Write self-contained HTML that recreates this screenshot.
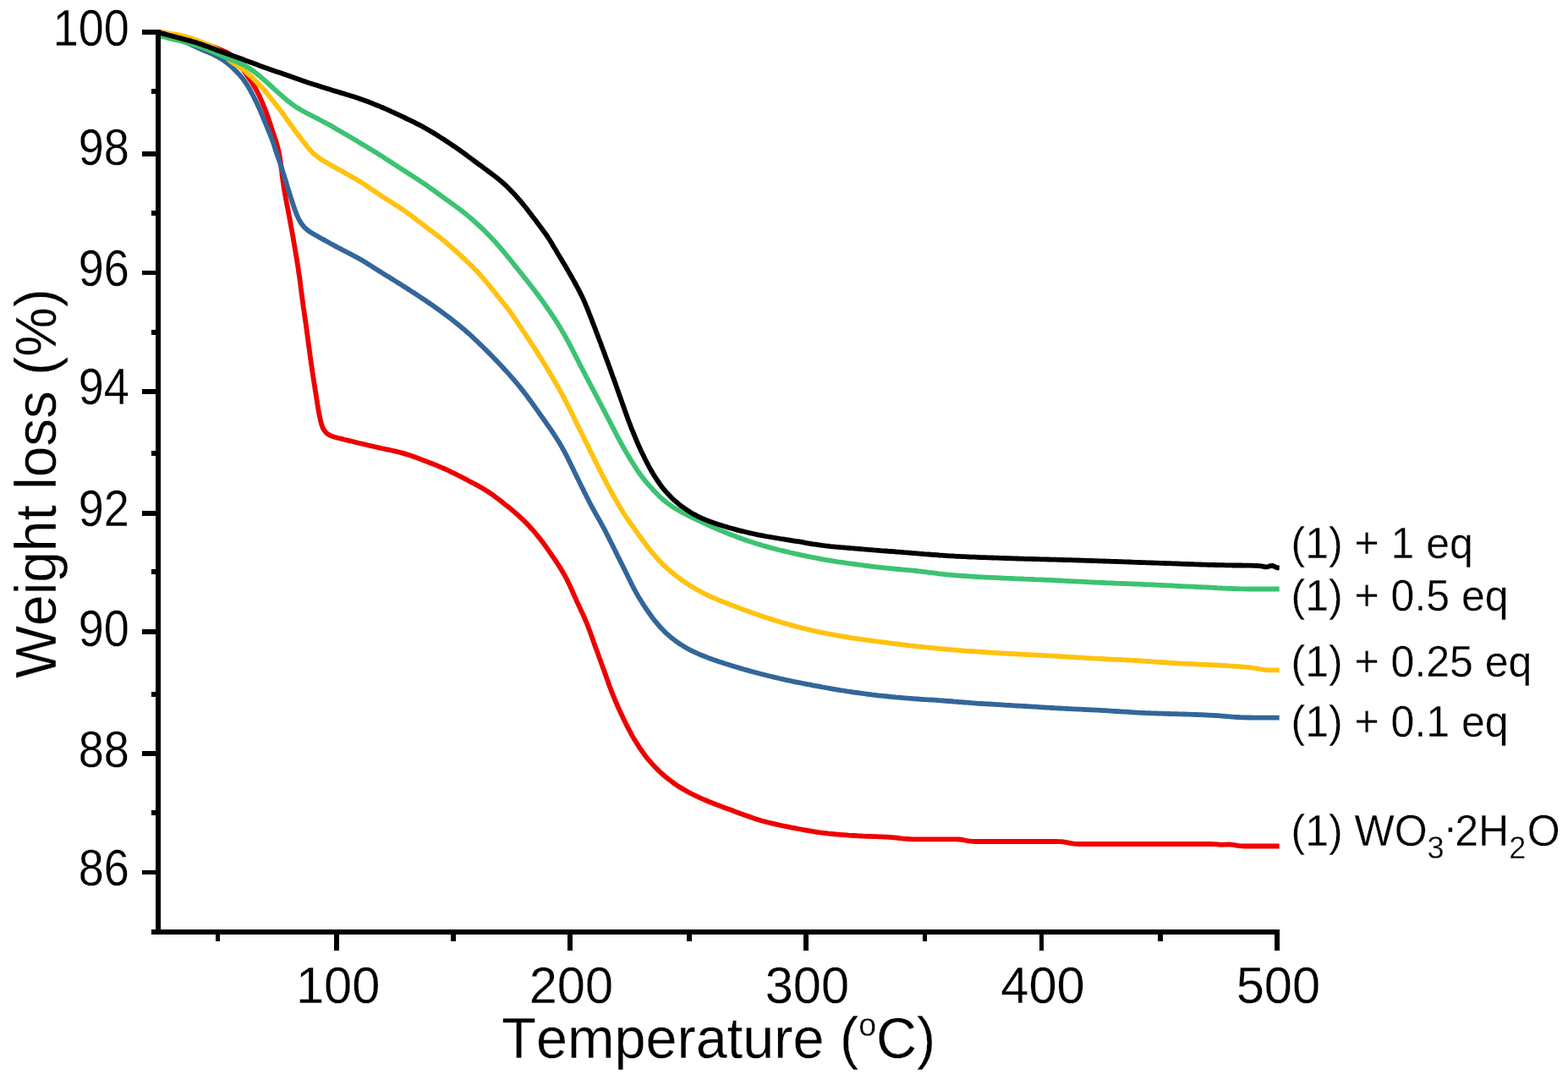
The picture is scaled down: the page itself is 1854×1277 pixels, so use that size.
<!DOCTYPE html>
<html lang="en">
<head>
<meta charset="utf-8">
<title>TGA weight loss curves</title>
<style>
html,body{margin:0;padding:0;background:#fff;}
body{width:1854px;height:1277px;overflow:hidden;}
svg{display:block;}
text{font-family:"Liberation Sans",Arial,Helvetica,sans-serif;fill:#000;stroke:#fff;stroke-width:0.3px;font-kerning:none;}
</style>
</head>
<body>
<svg width="1854" height="1277" viewBox="0 0 1854 1277">
<rect x="0" y="0" width="1854" height="1277" fill="#ffffff"/>
<g id="curves">
<path d="M190.0,38.0 L193.1,38.7 L196.0,39.3 L198.8,40.0 L201.7,40.6 L204.6,41.4 L207.5,42.1 L210.4,42.8 L213.3,43.6 L216.2,44.4 L219.1,45.2 L222.0,46.1 L224.9,46.9 L227.7,47.8 L230.6,48.7 L233.5,49.5 L236.4,50.3 L239.3,51.2 L242.1,52.0 L245.0,52.9 L247.8,53.9 L250.7,54.9 L253.5,55.9 L256.3,57.0 L259.1,58.1 L261.9,59.2 L264.7,60.4 L267.4,61.6 L270.0,63.0 L272.5,64.5 L274.8,66.3 L276.9,68.4 L278.8,70.6 L280.7,73.0 L282.4,75.4 L284.1,77.9 L285.8,80.4 L287.5,82.8 L289.3,85.2 L291.1,87.6 L292.8,90.1 L294.5,92.5 L296.2,95.0 L297.8,97.5 L299.4,100.1 L301.0,102.7 L302.5,105.3 L303.9,107.9 L305.3,110.5 L306.6,113.2 L307.8,116.0 L309.1,118.7 L310.2,121.5 L311.4,124.2 L312.5,127.0 L313.6,129.8 L314.7,132.6 L315.7,135.4 L316.7,138.3 L317.7,141.1 L318.6,143.9 L319.6,146.8 L320.5,149.6 L321.5,152.5 L322.4,155.3 L323.4,158.2 L324.3,161.0 L325.3,163.9 L326.2,166.7 L327.1,169.6 L327.9,172.5 L328.7,175.3 L329.4,178.2 L330.0,181.2 L330.6,184.1 L331.0,187.1 L331.5,190.0 L331.9,193.0 L332.3,196.0 L332.6,198.9 L333.0,201.9 L333.4,204.9 L333.7,207.9 L334.1,210.9 L334.5,213.9 L334.9,216.8 L335.4,219.8 L335.8,222.8 L336.3,225.7 L336.8,228.7 L337.4,231.6 L337.9,234.6 L338.5,237.5 L339.0,240.5 L339.6,243.4 L340.2,246.4 L340.8,249.3 L341.3,252.3 L341.9,255.2 L342.4,258.2 L343.0,261.1 L343.5,264.1 L344.0,267.0 L344.6,270.0 L345.1,272.9 L345.6,275.9 L346.2,278.8 L346.7,281.8 L347.2,284.8 L347.7,287.7 L348.2,290.7 L348.7,293.6 L349.2,296.6 L349.7,299.5 L350.2,302.5 L350.7,305.5 L351.2,308.4 L351.7,311.4 L352.1,314.3 L352.6,317.3 L353.0,320.3 L353.4,323.2 L353.9,326.2 L354.3,329.2 L354.7,332.2 L355.1,335.1 L355.5,338.1 L355.8,341.1 L356.2,344.1 L356.6,347.0 L357.0,350.0 L357.4,353.0 L357.8,356.0 L358.2,358.9 L358.6,361.9 L359.0,364.9 L359.5,367.8 L359.9,370.8 L360.3,373.8 L360.7,376.8 L361.2,379.7 L361.6,382.7 L362.0,385.7 L362.4,388.6 L362.8,391.6 L363.2,394.6 L363.6,397.5 L364.0,400.5 L364.4,403.5 L364.8,406.5 L365.2,409.4 L365.6,412.4 L366.0,415.4 L366.4,418.4 L366.8,421.3 L367.2,424.3 L367.6,427.3 L368.0,430.3 L368.5,433.2 L368.9,436.2 L369.3,439.2 L369.8,442.1 L370.2,445.1 L370.7,448.1 L371.1,451.0 L371.6,454.0 L372.1,457.0 L372.5,459.9 L373.0,462.9 L373.5,465.8 L373.9,468.8 L374.4,471.8 L374.9,474.7 L375.3,477.7 L375.8,480.7 L376.3,483.6 L376.8,486.6 L377.4,489.5 L378.0,492.5 L378.6,495.5 L379.3,498.4 L380.0,501.3 L381.0,504.1 L382.1,506.8 L383.6,509.2 L385.4,511.4 L387.5,513.2 L389.9,514.6 L392.5,515.8 L395.4,516.7 L398.3,517.5 L401.2,518.2 L404.2,518.9 L407.1,519.7 L410.0,520.4 L412.9,521.1 L415.9,521.8 L418.8,522.5 L421.7,523.3 L424.6,524.0 L427.5,524.6 L430.4,525.3 L433.4,526.0 L436.3,526.7 L439.2,527.4 L442.1,528.0 L445.1,528.7 L448.0,529.4 L450.9,530.0 L453.9,530.7 L456.8,531.3 L459.7,531.9 L462.7,532.5 L465.6,533.2 L468.5,533.8 L471.4,534.5 L474.3,535.3 L477.2,536.1 L480.1,536.9 L482.9,537.8 L485.8,538.8 L488.6,539.8 L491.4,540.8 L494.3,541.8 L497.1,542.9 L499.9,544.0 L502.7,545.0 L505.5,546.1 L508.3,547.2 L511.1,548.3 L513.9,549.4 L516.7,550.5 L519.4,551.6 L522.2,552.8 L524.9,554.0 L527.7,555.2 L530.4,556.5 L533.1,557.8 L535.8,559.1 L538.5,560.4 L541.2,561.8 L543.8,563.1 L546.5,564.5 L549.2,565.9 L551.8,567.3 L554.5,568.7 L557.2,570.1 L559.8,571.5 L562.5,572.9 L565.1,574.3 L567.7,575.8 L570.3,577.3 L572.9,578.8 L575.4,580.4 L577.9,582.0 L580.4,583.7 L582.9,585.4 L585.3,587.2 L587.7,589.0 L590.1,590.8 L592.5,592.6 L594.8,594.5 L597.2,596.4 L599.5,598.2 L601.9,600.1 L604.2,602.0 L606.5,603.9 L608.8,605.9 L611.1,607.8 L613.3,609.8 L615.5,611.8 L617.7,613.9 L619.8,616.0 L621.9,618.1 L624.0,620.3 L626.1,622.5 L628.1,624.7 L630.1,626.9 L632.1,629.2 L634.0,631.5 L635.9,633.8 L637.8,636.1 L639.6,638.5 L641.5,640.9 L643.2,643.3 L645.0,645.7 L646.8,648.2 L648.5,650.6 L650.2,653.1 L651.9,655.6 L653.6,658.1 L655.3,660.5 L657.0,663.0 L658.6,665.5 L660.3,668.1 L661.9,670.6 L663.5,673.1 L665.0,675.7 L666.5,678.3 L668.0,680.9 L669.4,683.5 L670.8,686.2 L672.1,688.9 L673.4,691.6 L674.6,694.3 L675.9,697.0 L677.1,699.8 L678.3,702.5 L679.5,705.3 L680.8,708.0 L682.0,710.8 L683.2,713.5 L684.5,716.2 L685.8,718.9 L687.0,721.7 L688.3,724.4 L689.5,727.1 L690.8,729.9 L691.9,732.6 L693.1,735.4 L694.3,738.1 L695.4,740.9 L696.4,743.7 L697.5,746.5 L698.5,749.4 L699.5,752.2 L700.5,755.0 L701.5,757.8 L702.5,760.7 L703.5,763.5 L704.5,766.3 L705.6,769.1 L706.6,772.0 L707.6,774.8 L708.6,777.6 L709.7,780.4 L710.7,783.2 L711.7,786.1 L712.7,788.9 L713.8,791.7 L714.8,794.5 L715.8,797.3 L716.8,800.2 L717.8,803.0 L718.8,805.8 L719.8,808.7 L720.8,811.5 L721.9,814.3 L722.9,817.1 L724.0,819.9 L725.1,822.7 L726.3,825.4 L727.4,828.2 L728.6,831.0 L729.8,833.7 L731.0,836.5 L732.3,839.2 L733.5,841.9 L734.8,844.7 L736.1,847.4 L737.3,850.1 L738.7,852.8 L740.0,855.5 L741.3,858.1 L742.7,860.8 L744.1,863.5 L745.5,866.1 L747.0,868.8 L748.4,871.4 L749.9,874.0 L751.5,876.5 L753.1,879.1 L754.7,881.6 L756.3,884.1 L758.0,886.6 L759.7,889.1 L761.5,891.5 L763.3,893.9 L765.1,896.3 L767.0,898.6 L769.0,900.9 L771.0,903.1 L773.0,905.3 L775.1,907.5 L777.2,909.6 L779.3,911.7 L781.5,913.8 L783.8,915.8 L786.0,917.7 L788.3,919.6 L790.7,921.5 L793.1,923.3 L795.5,925.1 L797.9,926.9 L800.4,928.6 L802.9,930.2 L805.5,931.8 L808.0,933.3 L810.6,934.8 L813.3,936.3 L815.9,937.7 L818.6,939.0 L821.3,940.3 L824.0,941.6 L826.7,942.9 L829.5,944.1 L832.2,945.3 L835.0,946.5 L837.7,947.7 L840.5,948.8 L843.3,949.9 L846.1,951.0 L848.9,952.1 L851.7,953.1 L854.5,954.2 L857.3,955.2 L860.2,956.3 L863.0,957.3 L865.8,958.3 L868.6,959.4 L871.4,960.4 L874.2,961.5 L877.1,962.5 L879.9,963.6 L882.7,964.6 L885.5,965.6 L888.4,966.6 L891.2,967.5 L894.1,968.4 L896.9,969.3 L899.8,970.2 L902.7,971.0 L905.6,971.8 L908.5,972.5 L911.4,973.2 L914.3,973.9 L917.2,974.6 L920.1,975.2 L923.1,975.9 L926.0,976.5 L929.0,977.1 L931.9,977.7 L934.9,978.3 L937.8,978.8 L940.8,979.4 L943.7,980.0 L946.7,980.5 L949.6,981.1 L952.6,981.6 L955.5,982.1 L958.5,982.6 L961.4,983.1 L964.4,983.6 L967.4,984.1 L970.3,984.5 L973.3,984.9 L976.3,985.2 L979.3,985.6 L982.2,985.9 L985.2,986.2 L988.2,986.5 L991.2,986.7 L994.2,987.0 L997.2,987.2 L1000.2,987.4 L1003.2,987.7 L1006.2,987.9 L1009.2,988.0 L1012.2,988.2 L1015.1,988.4 L1018.1,988.5 L1021.1,988.7 L1024.1,988.8 L1027.1,988.9 L1030.1,989.0 L1033.1,989.1 L1036.1,989.2 L1039.1,989.3 L1042.1,989.4 L1045.1,989.6 L1048.1,989.7 L1051.1,989.9 L1054.1,990.1 L1057.1,990.4 L1060.1,990.7 L1063.1,991.0 L1066.1,991.4 L1069.0,991.7 L1072.0,991.9 L1075.0,992.1 L1078.1,992.3 L1081.1,992.3 L1084.2,992.4 L1087.3,992.4 L1090.5,992.4 L1093.7,992.4 L1096.9,992.4 L1100.1,992.4 L1103.3,992.4 L1106.5,992.4 L1109.7,992.4 L1112.8,992.4 L1115.9,992.4 L1119.0,992.4 L1122.0,992.4 L1125.0,992.4 L1127.8,992.4 L1130.6,992.4 L1133.3,992.5 L1135.8,992.7 L1138.3,993.0 L1140.7,993.5 L1143.0,994.0 L1145.4,994.4 L1147.8,994.7 L1150.3,994.9 L1152.8,995.0 L1155.5,995.0 L1158.2,995.0 L1160.9,995.0 L1163.7,995.0 L1166.6,995.0 L1169.5,995.0 L1172.5,995.0 L1175.5,995.0 L1178.6,995.0 L1181.7,995.0 L1184.8,995.0 L1188.0,995.0 L1191.2,995.0 L1194.4,995.0 L1197.6,995.0 L1200.9,995.0 L1204.1,995.0 L1207.4,995.0 L1210.6,995.0 L1213.9,995.0 L1217.2,995.0 L1220.4,995.0 L1223.6,995.0 L1226.8,995.0 L1230.0,995.0 L1233.2,995.0 L1236.3,995.0 L1239.4,995.0 L1242.5,995.0 L1245.5,995.0 L1248.5,995.0 L1251.4,995.1 L1254.3,995.2 L1257.1,995.4 L1259.8,995.8 L1262.5,996.3 L1265.2,996.9 L1267.9,997.4 L1270.6,997.7 L1273.4,997.9 L1276.2,998.0 L1279.0,998.0 L1281.8,998.0 L1284.7,998.0 L1287.5,998.0 L1290.4,998.0 L1293.4,998.0 L1296.3,998.0 L1299.3,998.0 L1302.2,998.0 L1305.2,998.0 L1308.2,998.0 L1311.2,998.0 L1314.3,998.0 L1317.3,998.0 L1320.4,998.0 L1323.4,998.0 L1326.5,998.0 L1329.6,998.0 L1332.7,998.0 L1335.8,998.0 L1338.9,998.0 L1342.0,998.0 L1345.1,998.0 L1348.3,998.0 L1351.4,998.0 L1354.5,998.0 L1357.6,998.0 L1360.8,998.0 L1363.9,998.0 L1367.0,998.0 L1370.1,998.0 L1373.2,998.0 L1376.4,998.0 L1379.5,998.0 L1382.6,998.0 L1385.7,998.0 L1388.8,998.0 L1391.8,998.0 L1394.9,998.0 L1398.0,998.0 L1401.0,998.0 L1404.0,998.0 L1407.1,998.0 L1410.1,998.0 L1413.1,998.0 L1416.0,998.0 L1419.0,998.0 L1421.9,998.0 L1424.8,998.0 L1427.7,998.0 L1430.6,998.0 L1433.5,998.1 L1436.3,998.2 L1439.1,998.4 L1441.8,998.6 L1444.6,998.8 L1447.3,998.7 L1450.0,998.6 L1452.7,998.5 L1455.4,998.6 L1458.1,999.0 L1460.8,999.4 L1463.5,999.9 L1466.1,1000.2 L1468.8,1000.4 L1471.5,1000.5 L1474.3,1000.5 L1477.1,1000.5 L1479.9,1000.5 L1482.8,1000.5 L1485.8,1000.5 L1488.8,1000.5 L1491.8,1000.5 L1494.9,1000.5 L1498.1,1000.5 L1501.3,1000.5 L1504.6,1000.5 L1507.9,1000.5 L1511.5,1000.5 L1512.7,1000.5" fill="none" stroke="#ee0000" stroke-width="5.8" stroke-linejoin="round" stroke-linecap="butt"/>
<path d="M190.0,40.0 L193.0,40.8 L195.9,41.6 L198.7,42.5 L201.6,43.4 L204.4,44.3 L207.2,45.3 L210.1,46.3 L212.9,47.3 L215.7,48.4 L218.4,49.5 L221.2,50.7 L223.9,51.9 L226.7,53.1 L229.4,54.4 L232.1,55.6 L234.8,56.9 L237.6,58.1 L240.3,59.3 L243.1,60.5 L245.9,61.7 L248.6,62.9 L251.4,64.1 L254.1,65.4 L256.7,66.8 L259.3,68.2 L261.9,69.8 L264.4,71.4 L266.8,73.2 L269.2,75.0 L271.5,76.9 L273.7,78.9 L275.9,81.0 L278.1,83.1 L280.2,85.2 L282.2,87.4 L284.2,89.6 L286.1,91.9 L288.0,94.3 L289.7,96.7 L291.4,99.2 L293.0,101.7 L294.5,104.3 L296.0,106.9 L297.4,109.6 L298.8,112.2 L300.2,114.9 L301.6,117.6 L302.9,120.2 L304.2,123.0 L305.4,125.7 L306.6,128.4 L307.8,131.2 L309.0,133.9 L310.1,136.7 L311.3,139.5 L312.4,142.3 L313.6,145.0 L314.7,147.8 L315.9,150.6 L317.0,153.4 L318.1,156.1 L319.3,158.9 L320.4,161.7 L321.4,164.5 L322.5,167.3 L323.5,170.1 L324.4,173.0 L325.3,175.8 L326.3,178.7 L327.2,181.5 L328.2,184.4 L329.2,187.2 L330.2,190.0 L331.2,192.9 L332.1,195.7 L333.0,198.6 L333.9,201.4 L334.8,204.3 L335.7,207.2 L336.6,210.0 L337.5,212.9 L338.4,215.8 L339.2,218.6 L340.1,221.5 L341.0,224.4 L341.9,227.2 L342.8,230.1 L343.7,233.0 L344.6,235.8 L345.5,238.7 L346.4,241.5 L347.4,244.4 L348.4,247.2 L349.4,250.0 L350.5,252.8 L351.6,255.6 L352.9,258.3 L354.3,261.0 L355.8,263.5 L357.5,265.9 L359.4,268.2 L361.4,270.3 L363.7,272.1 L366.1,273.9 L368.6,275.5 L371.2,277.0 L373.9,278.5 L376.5,280.0 L379.1,281.5 L381.7,282.9 L384.4,284.4 L387.0,285.8 L389.6,287.3 L392.3,288.7 L394.9,290.1 L397.6,291.6 L400.2,293.0 L402.9,294.4 L405.5,295.8 L408.2,297.1 L410.9,298.5 L413.5,299.9 L416.2,301.3 L418.8,302.7 L421.5,304.1 L424.1,305.6 L426.7,307.1 L429.3,308.6 L431.8,310.1 L434.4,311.7 L436.9,313.3 L439.5,314.9 L442.0,316.5 L444.5,318.1 L447.1,319.7 L449.6,321.3 L452.2,322.9 L454.7,324.5 L457.3,326.1 L459.8,327.6 L462.4,329.2 L464.9,330.8 L467.5,332.4 L470.0,333.9 L472.6,335.5 L475.1,337.1 L477.6,338.7 L480.2,340.4 L482.7,342.0 L485.2,343.6 L487.7,345.2 L490.3,346.8 L492.8,348.5 L495.3,350.1 L497.8,351.8 L500.3,353.5 L502.8,355.1 L505.2,356.8 L507.7,358.5 L510.2,360.2 L512.6,361.9 L515.1,363.7 L517.5,365.4 L520.0,367.2 L522.4,368.9 L524.8,370.7 L527.2,372.5 L529.6,374.3 L532.0,376.1 L534.4,378.0 L536.7,379.8 L539.1,381.7 L541.4,383.6 L543.8,385.5 L546.1,387.4 L548.4,389.3 L550.6,391.2 L552.9,393.2 L555.1,395.2 L557.3,397.2 L559.6,399.3 L561.7,401.3 L563.9,403.4 L566.1,405.5 L568.2,407.6 L570.4,409.7 L572.5,411.8 L574.7,413.9 L576.8,416.0 L578.9,418.1 L581.0,420.3 L583.1,422.4 L585.2,424.6 L587.3,426.7 L589.3,428.9 L591.4,431.1 L593.4,433.3 L595.5,435.5 L597.5,437.7 L599.5,439.9 L601.5,442.1 L603.5,444.4 L605.5,446.6 L607.5,448.9 L609.4,451.2 L611.4,453.5 L613.3,455.8 L615.1,458.1 L617.0,460.5 L618.9,462.8 L620.7,465.2 L622.5,467.6 L624.3,470.0 L626.1,472.4 L627.9,474.8 L629.6,477.3 L631.4,479.7 L633.1,482.1 L634.9,484.6 L636.6,487.0 L638.3,489.5 L640.1,491.9 L641.8,494.4 L643.5,496.8 L645.3,499.3 L647.0,501.8 L648.7,504.2 L650.4,506.7 L652.1,509.2 L653.8,511.7 L655.5,514.2 L657.1,516.7 L658.7,519.2 L660.3,521.7 L661.8,524.3 L663.4,526.9 L664.8,529.5 L666.3,532.1 L667.7,534.7 L669.1,537.4 L670.5,540.0 L671.8,542.7 L673.1,545.4 L674.4,548.1 L675.7,550.8 L677.1,553.5 L678.4,556.2 L679.7,558.9 L681.0,561.6 L682.3,564.3 L683.6,567.0 L685.0,569.7 L686.3,572.4 L687.6,575.1 L689.0,577.8 L690.3,580.5 L691.6,583.2 L693.0,585.9 L694.3,588.5 L695.7,591.2 L697.0,593.9 L698.4,596.5 L699.8,599.2 L701.3,601.8 L702.7,604.4 L704.2,607.1 L705.6,609.7 L707.1,612.3 L708.6,614.9 L710.1,617.5 L711.5,620.1 L713.0,622.8 L714.4,625.4 L715.8,628.1 L717.1,630.7 L718.5,633.4 L719.8,636.1 L721.2,638.8 L722.5,641.5 L723.9,644.2 L725.2,646.8 L726.5,649.5 L727.9,652.2 L729.2,654.9 L730.5,657.6 L731.9,660.3 L733.2,663.0 L734.5,665.6 L735.9,668.3 L737.2,671.0 L738.5,673.7 L739.9,676.4 L741.2,679.1 L742.5,681.8 L743.8,684.5 L745.2,687.2 L746.5,689.9 L747.8,692.6 L749.2,695.2 L750.6,697.9 L752.1,700.5 L753.5,703.1 L755.0,705.7 L756.6,708.3 L758.2,710.8 L759.8,713.4 L761.4,715.9 L763.1,718.4 L764.7,720.9 L766.4,723.3 L768.2,725.8 L769.9,728.2 L771.7,730.7 L773.5,733.0 L775.4,735.4 L777.3,737.7 L779.3,740.0 L781.3,742.2 L783.4,744.3 L785.5,746.5 L787.6,748.6 L789.9,750.6 L792.1,752.6 L794.4,754.5 L796.8,756.3 L799.2,758.1 L801.6,759.8 L804.1,761.5 L806.7,763.1 L809.2,764.7 L811.8,766.2 L814.5,767.7 L817.1,769.1 L819.8,770.4 L822.5,771.7 L825.2,772.9 L828.0,774.1 L830.7,775.2 L833.5,776.3 L836.3,777.4 L839.1,778.4 L842.0,779.5 L844.8,780.4 L847.7,781.4 L850.5,782.4 L853.4,783.3 L856.2,784.3 L859.1,785.2 L861.9,786.1 L864.8,787.0 L867.7,787.9 L870.5,788.7 L873.4,789.6 L876.3,790.4 L879.2,791.3 L882.1,792.1 L885.0,792.9 L887.8,793.7 L890.7,794.5 L893.6,795.3 L896.5,796.0 L899.4,796.8 L902.3,797.5 L905.3,798.3 L908.2,799.0 L911.1,799.7 L914.0,800.4 L916.9,801.1 L919.8,801.8 L922.8,802.5 L925.7,803.1 L928.6,803.8 L931.5,804.4 L934.5,805.0 L937.4,805.7 L940.4,806.3 L943.3,806.9 L946.2,807.4 L949.2,808.0 L952.1,808.6 L955.1,809.2 L958.0,809.7 L961.0,810.3 L963.9,810.8 L966.9,811.4 L969.8,811.9 L972.8,812.5 L975.7,813.0 L978.7,813.5 L981.6,814.1 L984.6,814.6 L987.5,815.1 L990.5,815.6 L993.5,816.1 L996.4,816.5 L999.4,817.0 L1002.3,817.5 L1005.3,817.9 L1008.3,818.4 L1011.2,818.8 L1014.2,819.2 L1017.2,819.6 L1020.2,820.0 L1023.1,820.4 L1026.1,820.8 L1029.1,821.2 L1032.1,821.6 L1035.0,821.9 L1038.0,822.3 L1041.0,822.6 L1044.0,822.9 L1047.0,823.2 L1050.0,823.5 L1052.9,823.8 L1055.9,824.1 L1058.9,824.4 L1061.9,824.6 L1064.9,824.9 L1067.9,825.2 L1070.9,825.4 L1073.9,825.7 L1076.9,825.9 L1079.8,826.1 L1082.8,826.3 L1085.8,826.5 L1088.8,826.8 L1091.8,827.0 L1094.8,827.1 L1097.8,827.3 L1100.8,827.5 L1103.8,827.7 L1106.8,827.9 L1109.8,828.1 L1112.8,828.3 L1115.8,828.5 L1118.8,828.8 L1121.8,829.0 L1124.7,829.2 L1127.7,829.5 L1130.7,829.7 L1133.7,830.0 L1136.7,830.2 L1139.7,830.5 L1142.7,830.7 L1145.7,830.9 L1148.7,831.2 L1151.7,831.4 L1154.6,831.6 L1157.6,831.8 L1160.6,832.0 L1163.6,832.2 L1166.6,832.4 L1169.6,832.5 L1172.6,832.7 L1175.6,832.9 L1178.6,833.1 L1181.6,833.2 L1184.6,833.4 L1187.6,833.6 L1190.6,833.8 L1193.6,833.9 L1196.6,834.1 L1199.6,834.3 L1202.6,834.5 L1205.6,834.6 L1208.6,834.8 L1211.5,835.0 L1214.5,835.2 L1217.5,835.4 L1220.5,835.6 L1223.5,835.7 L1226.5,835.9 L1229.5,836.1 L1232.5,836.3 L1235.5,836.5 L1238.5,836.6 L1241.5,836.8 L1244.5,837.0 L1247.5,837.2 L1250.5,837.3 L1253.5,837.5 L1256.5,837.7 L1259.5,837.8 L1262.5,838.0 L1265.5,838.1 L1268.5,838.3 L1271.4,838.4 L1274.4,838.6 L1277.4,838.7 L1280.4,838.8 L1283.4,839.0 L1286.4,839.1 L1289.4,839.3 L1292.4,839.4 L1295.4,839.6 L1298.4,839.7 L1301.4,839.9 L1304.4,840.1 L1307.4,840.2 L1310.4,840.4 L1313.4,840.6 L1316.4,840.8 L1319.4,841.0 L1322.4,841.2 L1325.4,841.4 L1328.4,841.6 L1331.4,841.7 L1334.3,841.9 L1337.3,842.1 L1340.3,842.3 L1343.3,842.5 L1346.3,842.6 L1349.3,842.8 L1352.3,842.9 L1355.3,843.1 L1358.3,843.2 L1361.3,843.3 L1364.3,843.4 L1367.3,843.5 L1370.3,843.6 L1373.3,843.7 L1376.3,843.8 L1379.3,843.9 L1382.3,844.0 L1385.3,844.1 L1388.3,844.2 L1391.3,844.2 L1394.3,844.3 L1397.3,844.4 L1400.3,844.5 L1403.3,844.6 L1406.3,844.7 L1409.3,844.8 L1412.3,844.9 L1415.3,845.0 L1418.3,845.1 L1421.3,845.2 L1424.3,845.3 L1427.3,845.5 L1430.3,845.6 L1433.3,845.8 L1436.3,846.0 L1439.3,846.2 L1442.3,846.4 L1445.2,846.6 L1448.2,846.9 L1451.2,847.1 L1454.2,847.3 L1457.2,847.6 L1460.2,847.8 L1463.2,848.0 L1466.2,848.2 L1469.2,848.3 L1472.2,848.4 L1475.2,848.5 L1478.2,848.5 L1481.2,848.6 L1484.2,848.6 L1487.2,848.6 L1490.2,848.6 L1493.2,848.6 L1496.2,848.6 L1499.2,848.6 L1502.1,848.6 L1505.1,848.6 L1508.1,848.6 L1511.1,848.6 L1512.7,848.6" fill="none" stroke="#336699" stroke-width="5.8" stroke-linejoin="round" stroke-linecap="butt"/>
<path d="M190.0,38.6 L193.1,38.9 L196.1,39.2 L199.0,39.5 L202.0,39.9 L204.9,40.3 L207.9,40.7 L210.8,41.2 L213.8,41.8 L216.7,42.5 L219.6,43.3 L222.4,44.1 L225.3,45.1 L228.1,46.0 L231.0,47.0 L233.8,48.1 L236.6,49.1 L239.4,50.2 L242.2,51.4 L245.0,52.5 L247.7,53.7 L250.4,54.9 L253.1,56.3 L255.7,57.8 L258.2,59.4 L260.6,61.1 L262.9,63.0 L265.1,65.1 L267.2,67.2 L269.3,69.3 L271.5,71.3 L273.8,73.2 L276.2,74.9 L278.7,76.5 L281.2,78.0 L283.8,79.6 L286.2,81.3 L288.6,83.1 L290.9,85.0 L293.1,87.0 L295.3,89.0 L297.5,91.1 L299.7,93.2 L301.8,95.3 L304.0,97.4 L306.1,99.6 L308.1,101.7 L310.1,103.9 L312.1,106.2 L314.1,108.5 L316.0,110.8 L317.8,113.1 L319.7,115.5 L321.5,117.9 L323.4,120.2 L325.3,122.6 L327.1,124.9 L329.0,127.3 L330.8,129.6 L332.7,132.0 L334.5,134.4 L336.3,136.8 L338.0,139.3 L339.7,141.7 L341.4,144.2 L343.1,146.7 L344.9,149.1 L346.6,151.6 L348.4,154.0 L350.2,156.4 L352.0,158.8 L353.8,161.1 L355.7,163.5 L357.5,165.9 L359.3,168.2 L361.2,170.6 L363.0,173.0 L364.9,175.3 L366.8,177.6 L368.9,179.8 L371.0,181.8 L373.3,183.8 L375.7,185.6 L378.1,187.3 L380.6,189.0 L383.1,190.6 L385.7,192.1 L388.3,193.6 L390.9,195.1 L393.5,196.6 L396.2,198.0 L398.8,199.4 L401.4,200.9 L404.1,202.3 L406.7,203.8 L409.3,205.3 L411.9,206.7 L414.5,208.2 L417.2,209.7 L419.8,211.2 L422.3,212.7 L424.9,214.2 L427.5,215.8 L430.0,217.4 L432.5,219.1 L435.0,220.8 L437.4,222.5 L439.9,224.2 L442.4,225.8 L444.9,227.5 L447.4,229.2 L449.9,230.8 L452.4,232.5 L454.9,234.1 L457.4,235.7 L460.0,237.3 L462.5,239.0 L465.0,240.6 L467.5,242.2 L470.1,243.8 L472.6,245.5 L475.1,247.1 L477.6,248.8 L480.0,250.5 L482.5,252.3 L484.9,254.0 L487.3,255.8 L489.7,257.6 L492.1,259.5 L494.4,261.3 L496.8,263.1 L499.2,264.9 L501.6,266.8 L504.0,268.6 L506.4,270.4 L508.8,272.2 L511.2,274.0 L513.6,275.8 L516.0,277.6 L518.3,279.4 L520.7,281.3 L523.0,283.2 L525.3,285.1 L527.6,287.0 L529.9,289.0 L532.2,290.9 L534.4,292.9 L536.7,294.9 L538.9,296.9 L541.1,298.9 L543.4,300.9 L545.6,303.0 L547.8,305.0 L550.0,307.0 L552.1,309.1 L554.3,311.2 L556.5,313.3 L558.6,315.4 L560.7,317.5 L562.8,319.6 L564.9,321.8 L566.9,324.0 L568.9,326.3 L570.9,328.5 L572.8,330.8 L574.8,333.1 L576.7,335.4 L578.6,337.7 L580.5,340.1 L582.3,342.4 L584.2,344.8 L586.1,347.1 L587.9,349.5 L589.8,351.8 L591.7,354.1 L593.6,356.4 L595.5,358.8 L597.4,361.1 L599.3,363.4 L601.1,365.8 L602.9,368.2 L604.6,370.7 L606.3,373.1 L608.0,375.6 L609.7,378.1 L611.4,380.6 L613.1,383.1 L614.7,385.6 L616.4,388.1 L618.1,390.6 L619.7,393.0 L621.4,395.5 L623.0,398.0 L624.7,400.5 L626.4,403.0 L628.0,405.6 L629.6,408.1 L631.3,410.6 L632.9,413.1 L634.5,415.6 L636.1,418.2 L637.7,420.7 L639.3,423.2 L640.9,425.8 L642.5,428.3 L644.0,430.9 L645.6,433.5 L647.2,436.0 L648.7,438.6 L650.3,441.2 L651.8,443.8 L653.3,446.3 L654.8,448.9 L656.3,451.5 L657.8,454.1 L659.3,456.7 L660.8,459.4 L662.2,462.0 L663.7,464.6 L665.1,467.2 L666.5,469.9 L667.9,472.5 L669.3,475.2 L670.7,477.9 L672.0,480.5 L673.4,483.2 L674.7,485.9 L676.0,488.6 L677.4,491.3 L678.7,494.0 L680.0,496.7 L681.3,499.4 L682.6,502.1 L684.0,504.8 L685.3,507.5 L686.6,510.2 L687.9,512.8 L689.3,515.5 L690.6,518.2 L691.9,520.9 L693.3,523.6 L694.6,526.3 L695.9,529.0 L697.2,531.7 L698.5,534.4 L699.9,537.1 L701.2,539.8 L702.5,542.5 L703.8,545.2 L705.2,547.8 L706.5,550.5 L707.8,553.2 L709.2,555.9 L710.6,558.6 L711.9,561.2 L713.3,563.9 L714.7,566.5 L716.1,569.2 L717.5,571.8 L718.9,574.5 L720.3,577.1 L721.8,579.8 L723.2,582.4 L724.6,585.1 L726.1,587.7 L727.6,590.3 L729.0,592.9 L730.5,595.5 L732.1,598.1 L733.6,600.7 L735.2,603.2 L736.7,605.8 L738.4,608.3 L740.0,610.8 L741.7,613.3 L743.4,615.8 L745.1,618.2 L746.8,620.7 L748.6,623.1 L750.3,625.6 L752.1,628.0 L753.8,630.4 L755.6,632.9 L757.3,635.3 L759.1,637.8 L760.8,640.2 L762.6,642.6 L764.4,645.0 L766.3,647.4 L768.1,649.7 L770.0,652.0 L772.0,654.3 L773.9,656.6 L775.9,658.9 L777.9,661.1 L780.0,663.3 L782.0,665.5 L784.2,667.6 L786.3,669.7 L788.5,671.7 L790.7,673.7 L793.0,675.7 L795.3,677.6 L797.6,679.5 L800.0,681.3 L802.4,683.1 L804.8,684.9 L807.3,686.6 L809.8,688.3 L812.3,690.0 L814.8,691.6 L817.3,693.2 L819.9,694.7 L822.5,696.2 L825.1,697.7 L827.7,699.2 L830.4,700.6 L833.1,702.0 L835.7,703.3 L838.4,704.6 L841.2,705.9 L843.9,707.1 L846.7,708.2 L849.4,709.4 L852.2,710.5 L855.0,711.6 L857.8,712.7 L860.6,713.8 L863.4,714.9 L866.2,715.9 L869.0,717.0 L871.8,718.1 L874.6,719.1 L877.4,720.2 L880.3,721.2 L883.1,722.3 L885.9,723.3 L888.7,724.3 L891.5,725.3 L894.4,726.3 L897.2,727.3 L900.0,728.3 L902.9,729.2 L905.7,730.2 L908.6,731.1 L911.4,732.0 L914.3,732.9 L917.2,733.8 L920.0,734.7 L922.9,735.5 L925.8,736.4 L928.7,737.2 L931.6,738.0 L934.5,738.9 L937.3,739.6 L940.2,740.4 L943.1,741.2 L946.0,741.9 L949.0,742.7 L951.9,743.4 L954.8,744.1 L957.7,744.8 L960.6,745.5 L963.6,746.2 L966.5,746.8 L969.4,747.4 L972.3,748.1 L975.3,748.7 L978.2,749.2 L981.2,749.8 L984.1,750.4 L987.1,750.9 L990.0,751.4 L993.0,751.9 L995.9,752.4 L998.9,752.9 L1001.9,753.4 L1004.8,753.9 L1007.8,754.3 L1010.8,754.8 L1013.7,755.2 L1016.7,755.6 L1019.7,756.1 L1022.6,756.5 L1025.6,756.9 L1028.6,757.3 L1031.6,757.7 L1034.5,758.1 L1037.5,758.5 L1040.5,758.9 L1043.5,759.2 L1046.4,759.6 L1049.4,760.0 L1052.4,760.4 L1055.4,760.8 L1058.3,761.2 L1061.3,761.5 L1064.3,761.9 L1067.3,762.3 L1070.2,762.7 L1073.2,763.0 L1076.2,763.4 L1079.2,763.7 L1082.2,764.1 L1085.1,764.4 L1088.1,764.7 L1091.1,765.0 L1094.1,765.3 L1097.1,765.6 L1100.1,765.9 L1103.0,766.2 L1106.0,766.5 L1109.0,766.8 L1112.0,767.1 L1115.0,767.3 L1118.0,767.6 L1121.0,767.9 L1124.0,768.1 L1126.9,768.4 L1129.9,768.6 L1132.9,768.9 L1135.9,769.1 L1138.9,769.3 L1141.9,769.6 L1144.9,769.8 L1147.9,770.0 L1150.9,770.2 L1153.9,770.4 L1156.9,770.6 L1159.9,770.8 L1162.8,771.0 L1165.8,771.2 L1168.8,771.4 L1171.8,771.6 L1174.8,771.8 L1177.8,771.9 L1180.8,772.1 L1183.8,772.3 L1186.8,772.5 L1189.8,772.6 L1192.8,772.8 L1195.8,773.0 L1198.8,773.1 L1201.8,773.3 L1204.8,773.5 L1207.8,773.6 L1210.8,773.8 L1213.8,774.0 L1216.8,774.1 L1219.8,774.3 L1222.8,774.4 L1225.7,774.6 L1228.7,774.7 L1231.7,774.9 L1234.7,775.1 L1237.7,775.2 L1240.7,775.4 L1243.7,775.6 L1246.7,775.7 L1249.7,775.9 L1252.7,776.1 L1255.7,776.3 L1258.7,776.5 L1261.7,776.6 L1264.7,776.8 L1267.7,777.0 L1270.7,777.2 L1273.7,777.4 L1276.7,777.6 L1279.7,777.7 L1282.7,777.9 L1285.6,778.1 L1288.6,778.3 L1291.6,778.4 L1294.6,778.6 L1297.6,778.7 L1300.6,778.9 L1303.6,779.0 L1306.6,779.2 L1309.6,779.3 L1312.6,779.5 L1315.6,779.6 L1318.6,779.8 L1321.6,779.9 L1324.6,780.0 L1327.6,780.2 L1330.6,780.3 L1333.6,780.5 L1336.6,780.7 L1339.6,780.8 L1342.6,781.0 L1345.6,781.2 L1348.6,781.4 L1351.6,781.6 L1354.5,781.8 L1357.5,782.0 L1360.5,782.2 L1363.5,782.4 L1366.5,782.6 L1369.5,782.8 L1372.5,783.0 L1375.5,783.2 L1378.5,783.4 L1381.5,783.6 L1384.5,783.8 L1387.5,784.0 L1390.5,784.1 L1393.5,784.3 L1396.5,784.5 L1399.5,784.6 L1402.5,784.8 L1405.4,784.9 L1408.4,785.1 L1411.4,785.2 L1414.4,785.4 L1417.4,785.5 L1420.4,785.6 L1423.4,785.8 L1426.4,785.9 L1429.4,786.1 L1432.4,786.2 L1435.4,786.4 L1438.4,786.5 L1441.4,786.7 L1444.4,786.9 L1447.4,787.0 L1450.4,787.2 L1453.4,787.4 L1456.4,787.6 L1459.4,787.7 L1462.4,787.9 L1465.4,788.1 L1468.4,788.4 L1471.4,788.6 L1474.3,788.9 L1477.3,789.2 L1480.3,789.5 L1483.3,790.0 L1486.2,790.4 L1489.2,791.0 L1492.2,791.5 L1495.1,791.9 L1498.1,792.2 L1501.1,792.3 L1504.0,792.4 L1507.0,792.4 L1510.0,792.4 L1512.7,792.4" fill="none" stroke="#ffc20e" stroke-width="5.8" stroke-linejoin="round" stroke-linecap="butt"/>
<path d="M190.0,43.0 L193.1,43.4 L196.0,44.0 L198.8,44.9 L201.7,45.7 L204.6,46.4 L207.5,47.1 L210.4,47.8 L213.3,48.5 L216.2,49.2 L219.1,50.0 L222.0,50.8 L224.9,51.6 L227.8,52.5 L230.6,53.4 L233.5,54.3 L236.3,55.3 L239.2,56.3 L242.0,57.3 L244.8,58.4 L247.6,59.5 L250.3,60.7 L253.1,61.8 L255.8,63.0 L258.6,64.2 L261.3,65.5 L264.1,66.7 L266.8,67.9 L269.6,69.1 L272.4,70.2 L275.2,71.3 L278.0,72.3 L280.8,73.4 L283.5,74.6 L286.2,75.9 L288.9,77.2 L291.5,78.7 L294.0,80.3 L296.5,81.9 L299.0,83.6 L301.4,85.4 L303.7,87.3 L306.1,89.2 L308.4,91.1 L310.6,93.1 L312.9,95.0 L315.2,97.0 L317.4,99.0 L319.6,101.0 L321.8,103.0 L324.1,105.1 L326.3,107.1 L328.5,109.1 L330.8,111.1 L333.0,113.1 L335.3,115.0 L337.6,117.0 L339.9,118.9 L342.2,120.8 L344.6,122.6 L347.0,124.4 L349.5,126.1 L352.0,127.7 L354.5,129.3 L357.1,130.8 L359.8,132.2 L362.4,133.6 L365.1,135.0 L367.7,136.4 L370.4,137.7 L373.1,139.1 L375.8,140.4 L378.4,141.8 L381.1,143.2 L383.8,144.6 L386.4,146.0 L389.0,147.4 L391.7,148.9 L394.3,150.4 L396.9,151.9 L399.4,153.4 L402.0,154.9 L404.6,156.5 L407.2,158.0 L409.8,159.5 L412.4,161.0 L415.0,162.5 L417.5,164.1 L420.1,165.6 L422.7,167.1 L425.3,168.7 L427.8,170.2 L430.4,171.8 L433.0,173.3 L435.5,174.9 L438.1,176.4 L440.7,178.0 L443.2,179.6 L445.8,181.1 L448.3,182.7 L450.9,184.3 L453.4,185.9 L455.9,187.6 L458.4,189.2 L461.0,190.8 L463.5,192.5 L466.0,194.1 L468.5,195.7 L471.0,197.4 L473.5,199.0 L476.0,200.6 L478.6,202.3 L481.1,203.9 L483.6,205.5 L486.1,207.1 L488.7,208.8 L491.2,210.4 L493.7,212.0 L496.2,213.7 L498.7,215.3 L501.2,217.0 L503.7,218.7 L506.1,220.4 L508.6,222.1 L511.0,223.9 L513.5,225.6 L515.9,227.4 L518.3,229.1 L520.7,230.9 L523.2,232.7 L525.6,234.4 L528.0,236.2 L530.5,237.9 L532.9,239.7 L535.4,241.4 L537.8,243.2 L540.2,245.0 L542.6,246.7 L545.0,248.6 L547.4,250.4 L549.7,252.3 L552.1,254.1 L554.4,256.1 L556.6,258.0 L558.9,260.0 L561.2,262.0 L563.4,264.0 L565.6,266.0 L567.8,268.0 L570.0,270.1 L572.2,272.2 L574.3,274.3 L576.4,276.4 L578.5,278.6 L580.6,280.7 L582.6,282.9 L584.7,285.1 L586.7,287.3 L588.6,289.6 L590.6,291.8 L592.6,294.1 L594.5,296.4 L596.4,298.7 L598.3,301.0 L600.2,303.4 L602.1,305.7 L604.0,308.0 L605.9,310.4 L607.8,312.7 L609.6,315.1 L611.5,317.4 L613.4,319.8 L615.3,322.1 L617.2,324.4 L619.0,326.8 L620.9,329.1 L622.8,331.5 L624.7,333.8 L626.5,336.2 L628.4,338.5 L630.2,340.9 L632.0,343.3 L633.8,345.7 L635.6,348.1 L637.4,350.5 L639.2,352.9 L640.9,355.3 L642.7,357.8 L644.4,360.2 L646.1,362.7 L647.9,365.2 L649.6,367.6 L651.3,370.1 L652.9,372.6 L654.6,375.1 L656.2,377.6 L657.9,380.2 L659.5,382.7 L661.0,385.2 L662.6,387.8 L664.1,390.4 L665.6,392.9 L667.1,395.5 L668.6,398.1 L670.0,400.8 L671.5,403.4 L672.9,406.1 L674.3,408.7 L675.7,411.4 L677.0,414.0 L678.4,416.7 L679.8,419.4 L681.1,422.1 L682.5,424.7 L683.9,427.4 L685.2,430.1 L686.6,432.8 L688.0,435.4 L689.4,438.1 L690.8,440.8 L692.2,443.4 L693.5,446.1 L694.9,448.7 L696.3,451.4 L697.7,454.0 L699.1,456.7 L700.5,459.3 L701.9,462.0 L703.3,464.7 L704.7,467.3 L706.1,470.0 L707.5,472.6 L708.9,475.3 L710.3,477.9 L711.7,480.6 L713.1,483.3 L714.5,485.9 L715.8,488.6 L717.2,491.2 L718.6,493.9 L720.0,496.6 L721.4,499.2 L722.7,501.9 L724.1,504.6 L725.5,507.2 L726.9,509.9 L728.3,512.6 L729.6,515.2 L731.0,517.9 L732.5,520.5 L733.9,523.2 L735.3,525.8 L736.8,528.4 L738.2,531.0 L739.7,533.6 L741.3,536.2 L742.8,538.8 L744.3,541.4 L745.9,543.9 L747.5,546.5 L749.1,549.0 L750.7,551.6 L752.3,554.1 L754.0,556.6 L755.7,559.0 L757.4,561.5 L759.2,563.9 L761.1,566.2 L762.9,568.6 L764.8,570.9 L766.8,573.2 L768.8,575.4 L770.8,577.7 L772.8,579.9 L774.9,582.0 L777.1,584.2 L779.2,586.3 L781.4,588.3 L783.6,590.3 L785.9,592.3 L788.2,594.2 L790.6,596.0 L793.0,597.7 L795.5,599.4 L798.0,601.0 L800.6,602.5 L803.2,604.0 L805.8,605.5 L808.5,606.9 L811.2,608.3 L813.8,609.6 L816.5,611.0 L819.2,612.3 L821.9,613.6 L824.7,614.8 L827.4,616.1 L830.1,617.4 L832.8,618.7 L835.5,620.0 L838.2,621.2 L841.0,622.5 L843.7,623.7 L846.4,624.9 L849.2,626.1 L852.0,627.3 L854.7,628.4 L857.5,629.5 L860.3,630.6 L863.1,631.7 L865.9,632.8 L868.7,633.8 L871.5,634.9 L874.4,635.9 L877.2,636.9 L880.0,637.9 L882.8,638.9 L885.7,639.9 L888.5,640.8 L891.4,641.8 L894.2,642.7 L897.1,643.6 L900.0,644.4 L902.9,645.3 L905.7,646.1 L908.6,646.9 L911.5,647.7 L914.4,648.5 L917.3,649.2 L920.2,650.0 L923.1,650.7 L926.1,651.4 L929.0,652.1 L931.9,652.8 L934.8,653.5 L937.7,654.1 L940.7,654.8 L943.6,655.4 L946.5,656.1 L949.5,656.7 L952.4,657.3 L955.3,657.9 L958.3,658.5 L961.2,659.1 L964.2,659.7 L967.1,660.2 L970.1,660.8 L973.0,661.3 L976.0,661.8 L978.9,662.3 L981.9,662.8 L984.8,663.3 L987.8,663.8 L990.8,664.3 L993.7,664.7 L996.7,665.1 L999.7,665.6 L1002.6,666.0 L1005.6,666.4 L1008.6,666.8 L1011.6,667.2 L1014.5,667.6 L1017.5,668.0 L1020.5,668.4 L1023.5,668.8 L1026.4,669.2 L1029.4,669.6 L1032.4,669.9 L1035.4,670.3 L1038.4,670.6 L1041.3,671.0 L1044.3,671.3 L1047.3,671.6 L1050.3,671.9 L1053.3,672.2 L1056.3,672.5 L1059.2,672.8 L1062.2,673.0 L1065.2,673.3 L1068.2,673.6 L1071.2,673.8 L1074.2,674.1 L1077.2,674.4 L1080.2,674.7 L1083.1,675.0 L1086.1,675.3 L1089.1,675.7 L1092.1,676.0 L1095.1,676.4 L1098.0,676.8 L1101.0,677.1 L1104.0,677.5 L1107.0,677.9 L1109.9,678.3 L1112.9,678.6 L1115.9,679.0 L1118.9,679.3 L1121.9,679.6 L1124.9,679.9 L1127.8,680.1 L1130.8,680.4 L1133.8,680.6 L1136.8,680.8 L1139.8,681.0 L1142.8,681.2 L1145.8,681.4 L1148.8,681.6 L1151.8,681.8 L1154.8,682.0 L1157.8,682.1 L1160.8,682.3 L1163.8,682.5 L1166.8,682.6 L1169.8,682.8 L1172.8,682.9 L1175.7,683.1 L1178.7,683.2 L1181.7,683.4 L1184.7,683.5 L1187.7,683.6 L1190.7,683.8 L1193.7,683.9 L1196.7,684.0 L1199.7,684.2 L1202.7,684.3 L1205.7,684.4 L1208.7,684.5 L1211.7,684.7 L1214.7,684.8 L1217.7,684.9 L1220.7,685.0 L1223.7,685.2 L1226.7,685.3 L1229.7,685.4 L1232.7,685.5 L1235.7,685.7 L1238.7,685.8 L1241.7,685.9 L1244.7,686.1 L1247.7,686.2 L1250.7,686.4 L1253.7,686.5 L1256.7,686.7 L1259.7,686.8 L1262.7,687.0 L1265.7,687.1 L1268.7,687.3 L1271.6,687.4 L1274.6,687.6 L1277.6,687.7 L1280.6,687.9 L1283.6,688.0 L1286.6,688.2 L1289.6,688.3 L1292.6,688.5 L1295.6,688.6 L1298.6,688.8 L1301.6,688.9 L1304.6,689.0 L1307.6,689.2 L1310.6,689.3 L1313.6,689.4 L1316.6,689.5 L1319.6,689.7 L1322.6,689.8 L1325.6,689.9 L1328.6,690.0 L1331.6,690.1 L1334.6,690.2 L1337.6,690.4 L1340.6,690.5 L1343.6,690.6 L1346.6,690.7 L1349.6,690.8 L1352.6,691.0 L1355.6,691.1 L1358.6,691.2 L1361.6,691.4 L1364.6,691.5 L1367.6,691.6 L1370.6,691.8 L1373.5,691.9 L1376.5,692.1 L1379.5,692.2 L1382.5,692.4 L1385.5,692.5 L1388.5,692.7 L1391.5,692.8 L1394.5,693.0 L1397.5,693.1 L1400.5,693.3 L1403.5,693.4 L1406.5,693.6 L1409.5,693.7 L1412.5,693.8 L1415.5,694.0 L1418.5,694.1 L1421.5,694.2 L1424.5,694.4 L1427.5,694.5 L1430.5,694.7 L1433.5,694.9 L1436.5,695.0 L1439.5,695.2 L1442.5,695.3 L1445.5,695.5 L1448.5,695.6 L1451.5,695.8 L1454.5,695.9 L1457.5,696.0 L1460.5,696.1 L1463.5,696.2 L1466.5,696.3 L1469.5,696.4 L1472.5,696.4 L1475.5,696.5 L1478.5,696.5 L1481.4,696.5 L1484.4,696.5 L1487.4,696.5 L1490.4,696.5 L1493.4,696.5 L1496.4,696.5 L1499.4,696.5 L1502.4,696.5 L1505.4,696.5 L1508.3,696.5 L1511.4,696.5 L1512.7,696.5" fill="none" stroke="#3cc371" stroke-width="5.8" stroke-linejoin="round" stroke-linecap="butt"/>
<path d="M187.5,38.4 L190.5,39.2 L193.4,39.9 L196.3,40.7 L199.1,41.5 L202.0,42.2 L204.9,43.0 L207.8,43.8 L210.7,44.6 L213.6,45.3 L216.5,46.1 L219.4,46.9 L222.3,47.6 L225.2,48.4 L228.1,49.2 L231.0,50.1 L233.8,51.0 L236.7,51.9 L239.5,52.9 L242.3,53.9 L245.1,54.9 L247.9,56.0 L250.7,57.1 L253.5,58.1 L256.4,59.2 L259.2,60.3 L262.0,61.3 L264.8,62.3 L267.6,63.3 L270.5,64.3 L273.3,65.3 L276.1,66.3 L279.0,67.3 L281.8,68.3 L284.6,69.3 L287.4,70.3 L290.2,71.4 L293.1,72.4 L295.9,73.5 L298.7,74.5 L301.5,75.6 L304.3,76.6 L307.1,77.7 L309.9,78.7 L312.7,79.7 L315.6,80.7 L318.4,81.7 L321.2,82.7 L324.1,83.7 L326.9,84.7 L329.7,85.6 L332.6,86.6 L335.4,87.6 L338.2,88.6 L341.1,89.6 L343.9,90.6 L346.7,91.6 L349.5,92.6 L352.4,93.6 L355.2,94.6 L358.0,95.6 L360.9,96.5 L363.7,97.5 L366.6,98.4 L369.4,99.3 L372.3,100.2 L375.2,101.1 L378.0,102.0 L380.9,102.9 L383.7,103.8 L386.6,104.7 L389.5,105.6 L392.3,106.5 L395.2,107.4 L398.1,108.2 L401.0,109.1 L403.8,109.9 L406.7,110.8 L409.6,111.7 L412.5,112.5 L415.3,113.4 L418.2,114.3 L421.0,115.2 L423.9,116.2 L426.7,117.2 L429.5,118.2 L432.4,119.2 L435.2,120.3 L438.0,121.4 L440.8,122.5 L443.5,123.6 L446.3,124.7 L449.1,125.9 L451.9,127.0 L454.6,128.2 L457.4,129.4 L460.1,130.6 L462.8,131.9 L465.6,133.1 L468.3,134.4 L471.0,135.6 L473.7,136.9 L476.4,138.2 L479.2,139.5 L481.9,140.8 L484.6,142.1 L487.3,143.4 L490.0,144.7 L492.6,146.1 L495.3,147.4 L498.0,148.8 L500.6,150.3 L503.2,151.7 L505.8,153.2 L508.4,154.7 L511.0,156.2 L513.5,157.8 L516.1,159.4 L518.6,161.0 L521.2,162.6 L523.7,164.2 L526.2,165.8 L528.7,167.5 L531.2,169.1 L533.7,170.8 L536.2,172.5 L538.7,174.2 L541.1,175.9 L543.6,177.6 L546.0,179.4 L548.5,181.1 L550.9,182.9 L553.3,184.7 L555.7,186.5 L558.1,188.3 L560.5,190.1 L562.9,191.9 L565.3,193.7 L567.7,195.4 L570.2,197.2 L572.6,199.0 L575.0,200.8 L577.4,202.6 L579.8,204.4 L582.2,206.2 L584.6,208.0 L587.0,209.8 L589.3,211.7 L591.6,213.6 L593.9,215.5 L596.1,217.5 L598.3,219.5 L600.5,221.6 L602.6,223.7 L604.7,225.9 L606.8,228.1 L608.8,230.3 L610.8,232.5 L612.8,234.8 L614.8,237.0 L616.7,239.3 L618.6,241.6 L620.5,244.0 L622.4,246.3 L624.2,248.7 L626.0,251.1 L627.9,253.5 L629.7,255.9 L631.5,258.2 L633.3,260.6 L635.1,263.0 L636.9,265.4 L638.7,267.9 L640.5,270.3 L642.3,272.7 L644.0,275.1 L645.8,277.5 L647.5,280.0 L649.1,282.5 L650.7,285.0 L652.3,287.6 L653.8,290.2 L655.3,292.8 L656.9,295.3 L658.4,297.9 L659.9,300.5 L661.5,303.1 L663.0,305.6 L664.6,308.2 L666.1,310.8 L667.7,313.3 L669.2,315.9 L670.7,318.5 L672.2,321.1 L673.7,323.7 L675.2,326.3 L676.7,328.9 L678.2,331.6 L679.6,334.2 L681.1,336.8 L682.5,339.5 L683.9,342.1 L685.3,344.8 L686.6,347.4 L687.9,350.1 L689.2,352.8 L690.5,355.6 L691.7,358.3 L692.8,361.1 L694.0,363.8 L695.1,366.6 L696.2,369.4 L697.3,372.2 L698.4,375.0 L699.5,377.8 L700.5,380.6 L701.6,383.4 L702.7,386.2 L703.8,389.0 L704.8,391.8 L705.9,394.6 L707.0,397.4 L708.0,400.2 L709.1,403.0 L710.2,405.8 L711.2,408.7 L712.3,411.5 L713.3,414.3 L714.4,417.1 L715.4,419.9 L716.4,422.7 L717.5,425.5 L718.5,428.3 L719.5,431.2 L720.6,434.0 L721.6,436.8 L722.6,439.6 L723.6,442.4 L724.6,445.3 L725.7,448.1 L726.7,450.9 L727.7,453.7 L728.7,456.6 L729.7,459.4 L730.7,462.2 L731.7,465.1 L732.7,467.9 L733.7,470.7 L734.7,473.5 L735.7,476.4 L736.7,479.2 L737.7,482.0 L738.7,484.9 L739.7,487.7 L740.7,490.5 L741.7,493.3 L742.7,496.2 L743.8,499.0 L744.9,501.8 L745.9,504.6 L747.0,507.4 L748.2,510.1 L749.3,512.9 L750.4,515.7 L751.6,518.5 L752.7,521.2 L753.9,524.0 L755.1,526.7 L756.4,529.5 L757.6,532.2 L758.9,534.9 L760.2,537.6 L761.5,540.3 L762.8,543.0 L764.2,545.7 L765.6,548.4 L767.0,551.0 L768.4,553.6 L769.9,556.2 L771.4,558.8 L773.0,561.4 L774.6,564.0 L776.2,566.5 L777.9,569.0 L779.6,571.5 L781.3,573.9 L783.1,576.3 L785.0,578.6 L786.9,580.9 L788.9,583.1 L791.0,585.3 L793.1,587.5 L795.2,589.6 L797.4,591.6 L799.7,593.6 L802.0,595.5 L804.3,597.4 L806.7,599.2 L809.2,600.9 L811.7,602.6 L814.2,604.3 L816.7,605.9 L819.3,607.4 L822.0,608.9 L824.6,610.3 L827.3,611.6 L830.0,612.8 L832.7,614.0 L835.5,615.1 L838.3,616.2 L841.1,617.2 L843.9,618.3 L846.8,619.2 L849.6,620.2 L852.5,621.1 L855.4,622.0 L858.3,622.8 L861.2,623.7 L864.1,624.5 L866.9,625.3 L869.8,626.1 L872.7,626.9 L875.6,627.6 L878.6,628.3 L881.5,629.0 L884.4,629.7 L887.3,630.4 L890.3,631.0 L893.2,631.7 L896.1,632.3 L899.1,632.9 L902.0,633.4 L905.0,634.0 L907.9,634.5 L910.9,635.0 L913.8,635.5 L916.8,636.0 L919.7,636.5 L922.7,637.0 L925.7,637.4 L928.6,637.9 L931.6,638.3 L934.6,638.8 L937.5,639.3 L940.5,639.8 L943.5,640.2 L946.4,640.7 L949.4,641.2 L952.3,641.8 L955.3,642.3 L958.3,642.8 L961.2,643.3 L964.2,643.7 L967.2,644.2 L970.1,644.6 L973.1,645.0 L976.1,645.4 L979.0,645.7 L982.0,646.1 L985.0,646.4 L988.0,646.7 L991.0,646.9 L994.0,647.2 L996.9,647.4 L999.9,647.7 L1002.9,647.9 L1005.9,648.2 L1008.9,648.4 L1011.9,648.7 L1014.9,648.9 L1017.9,649.1 L1020.9,649.4 L1023.9,649.6 L1026.9,649.9 L1029.9,650.1 L1032.8,650.4 L1035.8,650.6 L1038.8,650.8 L1041.8,651.1 L1044.8,651.3 L1047.8,651.5 L1050.8,651.8 L1053.8,652.0 L1056.8,652.2 L1059.8,652.5 L1062.7,652.7 L1065.7,652.9 L1068.7,653.2 L1071.7,653.4 L1074.7,653.6 L1077.7,653.9 L1080.7,654.1 L1083.7,654.3 L1086.7,654.6 L1089.7,654.8 L1092.7,655.1 L1095.6,655.3 L1098.6,655.5 L1101.6,655.8 L1104.6,656.0 L1107.6,656.2 L1110.6,656.5 L1113.6,656.7 L1116.6,656.9 L1119.6,657.1 L1122.6,657.3 L1125.6,657.4 L1128.6,657.6 L1131.6,657.8 L1134.6,657.9 L1137.6,658.1 L1140.5,658.2 L1143.5,658.3 L1146.5,658.5 L1149.5,658.6 L1152.5,658.7 L1155.5,658.8 L1158.5,659.0 L1161.5,659.1 L1164.5,659.2 L1167.5,659.3 L1170.5,659.4 L1173.5,659.5 L1176.5,659.6 L1179.5,659.7 L1182.5,659.8 L1185.5,659.9 L1188.5,660.0 L1191.5,660.1 L1194.5,660.2 L1197.5,660.3 L1200.5,660.4 L1203.5,660.5 L1206.5,660.6 L1209.5,660.7 L1212.5,660.8 L1215.5,660.9 L1218.5,660.9 L1221.5,661.0 L1224.5,661.1 L1227.5,661.2 L1230.5,661.3 L1233.5,661.3 L1236.5,661.4 L1239.5,661.5 L1242.5,661.6 L1245.5,661.7 L1248.5,661.7 L1251.5,661.8 L1254.5,661.9 L1257.5,662.0 L1260.5,662.1 L1263.5,662.2 L1266.5,662.2 L1269.5,662.3 L1272.5,662.4 L1275.5,662.5 L1278.5,662.6 L1281.5,662.7 L1284.5,662.8 L1287.5,662.9 L1290.5,663.0 L1293.5,663.1 L1296.5,663.2 L1299.5,663.3 L1302.5,663.4 L1305.5,663.5 L1308.5,663.6 L1311.5,663.7 L1314.5,663.8 L1317.5,663.9 L1320.5,664.0 L1323.5,664.1 L1326.5,664.2 L1329.5,664.3 L1332.4,664.4 L1335.4,664.5 L1338.4,664.6 L1341.4,664.8 L1344.4,664.9 L1347.4,665.0 L1350.4,665.1 L1353.4,665.2 L1356.4,665.3 L1359.4,665.4 L1362.4,665.5 L1365.4,665.6 L1368.4,665.7 L1371.4,665.8 L1374.4,665.9 L1377.4,666.0 L1380.4,666.1 L1383.4,666.2 L1386.4,666.3 L1389.4,666.4 L1392.4,666.5 L1395.4,666.6 L1398.4,666.8 L1401.4,666.9 L1404.4,667.0 L1407.4,667.1 L1410.4,667.2 L1413.4,667.3 L1416.4,667.4 L1419.4,667.5 L1422.4,667.6 L1425.4,667.7 L1428.4,667.8 L1431.4,667.9 L1434.4,667.9 L1437.4,668.0 L1440.4,668.1 L1443.4,668.2 L1446.4,668.2 L1449.4,668.3 L1452.4,668.4 L1455.4,668.4 L1458.4,668.5 L1461.5,668.5 L1464.5,668.5 L1467.6,668.5 L1470.6,668.6 L1473.7,668.6 L1476.7,668.6 L1479.7,668.7 L1482.7,668.8 L1485.6,668.9 L1488.4,669.1 L1491.3,669.3 L1494.0,669.9 L1496.8,670.5 L1499.5,670.0 L1502.3,669.1 L1504.9,668.9 L1507.5,670.3 L1510.2,671.3 L1512.7,671.4" fill="none" stroke="#000000" stroke-width="5.8" stroke-linejoin="round" stroke-linecap="butt"/>
</g>
<g id="axes" fill="#000" shape-rendering="crispEdges">
<rect x="184.3" y="34.9" width="5.8" height="1069.8"/>
<rect x="178.8" y="1098.9" width="1334.0" height="5.8"/>
<rect x="167.5" y="34.9" width="17.8" height="5.8"/>
<rect x="167.5" y="178.7" width="17.8" height="5.8"/>
<rect x="167.5" y="319.6" width="17.8" height="5.8"/>
<rect x="167.5" y="460.2" width="17.8" height="5.8"/>
<rect x="167.5" y="603.7" width="17.8" height="5.8"/>
<rect x="167.5" y="744.1" width="17.8" height="5.8"/>
<rect x="167.5" y="887.9" width="17.8" height="5.8"/>
<rect x="167.5" y="1028.6" width="17.8" height="5.8"/>
<rect x="178.8" y="105.3" width="6.5" height="5.8"/>
<rect x="178.8" y="249.1" width="6.5" height="5.8"/>
<rect x="178.8" y="389.8" width="6.5" height="5.8"/>
<rect x="178.8" y="533.3" width="6.5" height="5.8"/>
<rect x="178.8" y="673.4" width="6.5" height="5.8"/>
<rect x="178.8" y="817.8" width="6.5" height="5.8"/>
<rect x="178.8" y="958.1" width="6.5" height="5.8"/>
<rect x="395.2" y="1103.7" width="5.8" height="20.7"/>
<rect x="671.0" y="1103.7" width="5.8" height="20.7"/>
<rect x="950.0" y="1103.7" width="5.8" height="20.7"/>
<rect x="1228.6" y="1103.7" width="5.8" height="20.7"/>
<rect x="1507.0" y="1103.7" width="5.8" height="20.7"/>
<rect x="254.6" y="1103.7" width="5.8" height="8.9"/>
<rect x="533.4" y="1103.7" width="5.8" height="8.9"/>
<rect x="811.8" y="1103.7" width="5.8" height="8.9"/>
<rect x="1090.5" y="1103.7" width="5.8" height="8.9"/>
<rect x="1369.3" y="1103.7" width="5.8" height="8.9"/>
</g>
<g id="labels">
<text transform="translate(152.7,54.3) scale(0.905,1.030)" font-size="59.6" text-anchor="end">100</text>
<text transform="translate(152.7,194.8) scale(0.905,1.030)" font-size="59.6" text-anchor="end">98</text>
<text transform="translate(152.7,338.0) scale(0.905,1.030)" font-size="59.6" text-anchor="end">96</text>
<text transform="translate(152.7,478.4) scale(0.905,1.030)" font-size="59.6" text-anchor="end">94</text>
<text transform="translate(152.7,621.7) scale(0.905,1.030)" font-size="59.6" text-anchor="end">92</text>
<text transform="translate(152.7,764.2) scale(0.905,1.030)" font-size="59.6" text-anchor="end">90</text>
<text transform="translate(152.7,906.6) scale(0.905,1.030)" font-size="59.6" text-anchor="end">88</text>
<text transform="translate(152.7,1047.4) scale(0.905,1.030)" font-size="59.6" text-anchor="end">86</text>
<text transform="translate(399.6,1186.3) scale(1.000,1.030)" font-size="59.6" text-anchor="middle">100</text>
<text transform="translate(675.4,1186.3) scale(1.000,1.030)" font-size="59.6" text-anchor="middle">200</text>
<text transform="translate(954.4,1186.3) scale(1.000,1.030)" font-size="59.6" text-anchor="middle">300</text>
<text transform="translate(1233.0,1186.3) scale(1.000,1.030)" font-size="59.6" text-anchor="middle">400</text>
<text transform="translate(1511.4,1186.3) scale(1.000,1.030)" font-size="59.6" text-anchor="middle">500</text>
<text transform="translate(849.8,1250.5) scale(1.000,1.030)" font-size="66.6" text-anchor="middle">Temperature (<tspan font-size="37.5" dy="-24.5">o</tspan><tspan dy="24.5">C)</tspan></text>
<text transform="translate(66.0,571.7) rotate(-90) scale(0.988,1.030)" font-size="66.6" text-anchor="middle">Weight loss (%)</text>
<text transform="translate(1526.5,659.7) scale(1.000,1.030)" font-size="50">(1) + 1 eq</text>
<text transform="translate(1526.5,721.6) scale(1.000,1.030)" font-size="50">(1) + 0.5 eq</text>
<text transform="translate(1526.5,800.0) scale(1.000,1.030)" font-size="50">(1) + 0.25 eq</text>
<text transform="translate(1526.5,870.9) scale(1.000,1.030)" font-size="50">(1) + 0.1 eq</text>
<text transform="translate(1526.5,1000.3) scale(1.000,1.030)" font-size="50">(1) WO<tspan font-size="36" dy="13.8">3</tspan><tspan dy="-18.8" dx="-1">·</tspan><tspan dy="5" dx="-3">2H</tspan><tspan font-size="36" dy="13.8">2</tspan><tspan dy="-13.8" dx="1.5">O</tspan></text>
</g>
</svg>
</body>
</html>
